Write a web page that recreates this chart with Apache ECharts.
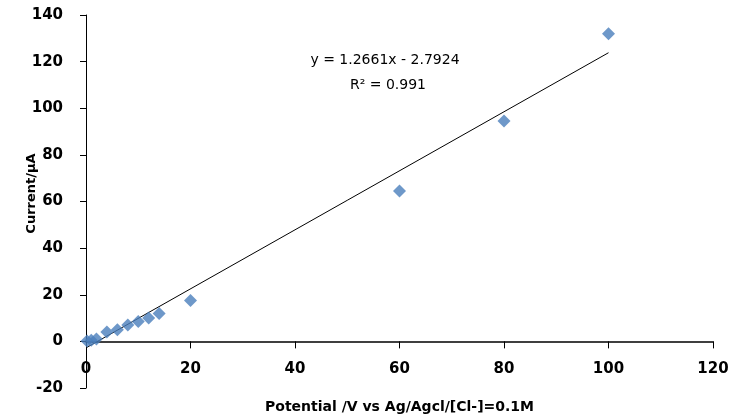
<!DOCTYPE html>
<html>
<head>
<meta charset="utf-8">
<script src="https://cdn.jsdelivr.net/npm/echarts@6/dist/echarts.min.js"></script>
<style>
  html, body { margin: 0; padding: 0; background: #fff; }
  #main { width: 738px; height: 418px; }
</style>
</head>
<body>
<div id="main"></div>
<script>
// measured points (potential, current)
const potential = [0.2, 1, 2, 4, 6, 8, 10, 12, 14, 20, 60, 80, 100];
const current = [0.2, 0.5, 1, 4, 5, 7, 8.5, 10, 12, 17.5, 64.5, 94.5, 132];

// linear trendline as printed on the chart
const slope = 1.2661;
const intercept = -2.7924;
const rSquared = 0.991;
const trendRange = [0, 100];

const xTicks = [0, 20, 40, 60, 80, 100, 120];
const yTicks = [-20, 0, 20, 40, 60, 80, 100, 120, 140];

const chartDom = document.getElementById('main');
const myChart = echarts.init(chartDom);

const points = potential.map((x, i) => [x, current[i]]);
const trend = trendRange.map(x => [x, slope * x + intercept]);

const gridTop = 15, gridBottom = 30;
const yMin = yTicks[0], yMax = yTicks[yTicks.length - 1];
// shift the x axis up from the grid bottom to the y = 0 level
const plotH = 418 - gridTop - gridBottom;
const zeroOffset = -plotH * (0 - yMin) / (yMax - yMin);

const labelFont = { fontFamily: 'DejaVu Sans', fontWeight: 'bold', fontSize: 15, color: '#000' };

const option = {
    animation: false,
    backgroundColor: '#fff',
    grid: {
        left: 86,
        right: 25,
        top: gridTop,
        bottom: gridBottom,
        outerBoundsMode: 'none',
    },
    xAxis: {
        type: 'value',
        min: xTicks[0],
        max: xTicks[xTicks.length - 1],
        interval: 20,
        offset: zeroOffset,
        name: 'Potential /V vs Ag/Agcl/[Cl-]=0.1M',
        nameLocation: 'middle',
        nameGap: 59,
        nameMoveOverlap: false,
        nameTextStyle: { fontFamily: 'DejaVu Sans', fontWeight: 'bold', fontSize: 14, color: '#000' },
        axisLine: { onZero: false, lineStyle: { color: '#000', width: 1.5 } },
        axisTick: { show: true, inside: false, length: 7, lineStyle: { color: '#000', width: 1 } },
        axisLabel: Object.assign({ margin: 20 }, labelFont),
        splitLine: { show: false },
    },
    yAxis: {
        type: 'value',
        min: yMin,
        max: yMax,
        interval: 20,
        name: 'Current/µA',
        nameLocation: 'middle',
        nameGap: 48,
        nameMoveOverlap: false,
        nameTextStyle: {
            fontFamily: 'DejaVu Sans', fontWeight: 'bold', fontSize: 13, color: '#000',
            padding: [0, 0, 0, 16],
        },
        axisLine: { show: true, onZero: false, lineStyle: { color: '#000', width: 1 } },
        axisTick: { show: true, length: 6, lineStyle: { color: '#000' } },
        axisLabel: Object.assign({ margin: 23 }, labelFont),
        splitLine: { show: false },
    },
    graphic: [
        {
            type: 'text',
            x: 385,
            y: 60,
            style: {
                text: 'y = 1.2661x - 2.7924',
                font: '14px "DejaVu Sans"',
                fill: '#000',
                align: 'center',
                verticalAlign: 'middle',
            },
        },
        {
            type: 'text',
            x: 388,
            y: 85,
            style: {
                text: 'R² = ' + rSquared,
                font: '14px "DejaVu Sans"',
                fill: '#000',
                align: 'center',
                verticalAlign: 'middle',
            },
        },
    ],
    series: [
        {
            name: 'Linear',
            type: 'line',
            data: trend,
            symbol: 'none',
            lineStyle: { color: '#000', width: 1 },
            z: 2,
        },
        {
            name: 'Current',
            type: 'scatter',
            data: points,
            symbol: 'diamond',
            symbolSize: 13,
            itemStyle: { color: '#4A7EBB' },
            z: 3,
        },
    ],
};

option && myChart.setOption(option);
</script>
</body>
</html>
